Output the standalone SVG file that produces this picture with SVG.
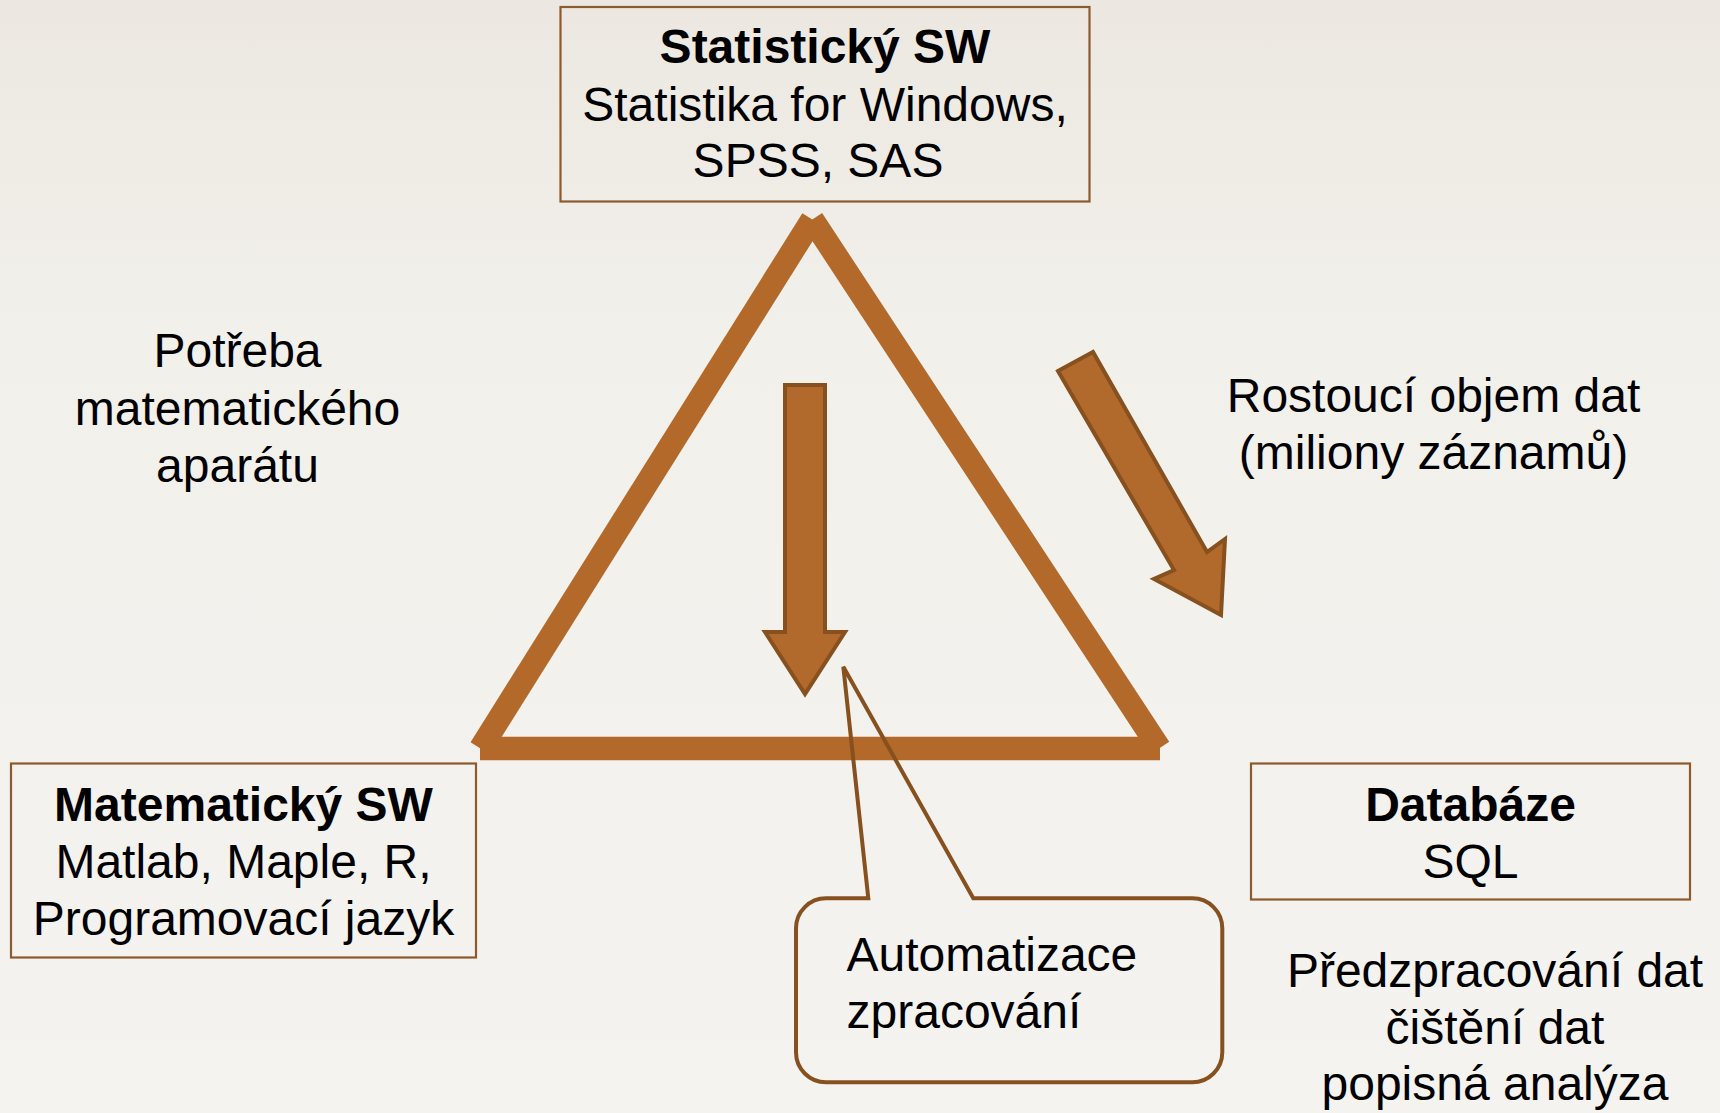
<svg xmlns="http://www.w3.org/2000/svg" width="1720" height="1113" viewBox="0 0 1720 1113">
  <defs>
    <linearGradient id="bg" x1="0" y1="0" x2="0" y2="1">
      <stop offset="0" stop-color="#ECE8E1"/>
      <stop offset="0.3" stop-color="#F2F0EB"/>
      <stop offset="1" stop-color="#F4F3EF"/>
    </linearGradient>
    <style>
      .txt { font-family: "Liberation Sans", Arial, sans-serif; font-size: 48px; fill: #000; }
      .b { font-weight: bold; }
      .mid { text-anchor: middle; }
      .box { fill: none; stroke: #8C5A2E; stroke-width: 2.2; }
      .tri { stroke: #B3692A; stroke-width: 23.5; stroke-linecap: butt; fill: none; }
      .arrow { fill: #B26A2C; stroke: #87501F; stroke-width: 4; stroke-linejoin: miter; }
      .callout { fill: none; stroke: #87501F; stroke-width: 4; stroke-linejoin: miter; }
    </style>
  </defs>
  <rect x="0" y="0" width="1720" height="1113" fill="url(#bg)"/>

  <g id="triangle">
    <line class="tri" x1="480.5" y1="748.5" x2="812.3" y2="219.5"/>
    <line class="tri" x1="812.3" y1="219.5" x2="1159.4" y2="748.2"/>
    <line class="tri" x1="480" y1="748.4" x2="1160" y2="748.4"/>
  </g>

  <g id="connectors">
    <polygon id="arrow-down" class="arrow" points="785,385 825,385 825,632 845,632 805,694 765,632 785,632"/>
    <polygon id="arrow-diagonal" class="arrow" points="1058,371 1093,352 1207,552 1225,539 1221,615 1154,579 1174,570"/>
  </g>

  <g id="node-statisticky">
    <rect class="box" x="560.5" y="7" width="529" height="194.5"/>
    <text class="txt b mid" x="825" y="63">Statistický SW</text>
    <text class="txt mid" x="825" y="121">Statistika for Windows,</text>
    <text class="txt mid" x="818" y="177">SPSS, SAS</text>
  </g>

  <g id="node-matematicky">
    <rect class="box" x="11" y="763.5" width="465" height="194"/>
    <text class="txt b mid" x="243.5" y="821">Matematický SW</text>
    <text class="txt mid" x="243.5" y="878">Matlab, Maple, R,</text>
    <text class="txt mid" x="243.5" y="934.5">Programovací jazyk</text>
  </g>

  <g id="node-databaze">
    <rect class="box" x="1251" y="763.5" width="439" height="136"/>
    <text class="txt b mid" x="1470.5" y="821">Databáze</text>
    <text class="txt mid" x="1470.5" y="878">SQL</text>
  </g>

  <g id="label-potreba">
    <text class="txt mid" x="237.5" y="367">Potřeba</text>
    <text class="txt mid" x="237.5" y="424.5">matematického</text>
    <text class="txt mid" x="237.5" y="482">aparátu</text>
  </g>

  <g id="label-rostouci">
    <text class="txt mid" x="1433.5" y="411.5">Rostoucí objem dat</text>
    <text class="txt mid" x="1433.5" y="469">(miliony záznamů)</text>
  </g>

  <g id="label-predzpracovani">
    <text class="txt mid" x="1495" y="987">Předzpracování dat</text>
    <text class="txt mid" x="1495" y="1043.5">čištění dat</text>
    <text class="txt mid" x="1495" y="1100">popisná analýza</text>
  </g>

  <g id="node-callout">
    <path class="callout" d="M 826,898.3 L 868.3,898.3 L 843.3,666.7 L 973.3,898.3 L 1192.3,898.3 A 30 30 0 0 1 1222.3,928.3 L 1222.3,1052.3 A 30 30 0 0 1 1192.3,1082.3 L 826,1082.3 A 30 30 0 0 1 796,1052.3 L 796,928.3 A 30 30 0 0 1 826,898.3 Z"/>
    <text class="txt" x="846.5" y="970.5">Automatizace</text>
    <text class="txt" x="846.5" y="1028">zpracování</text>
  </g>
</svg>
